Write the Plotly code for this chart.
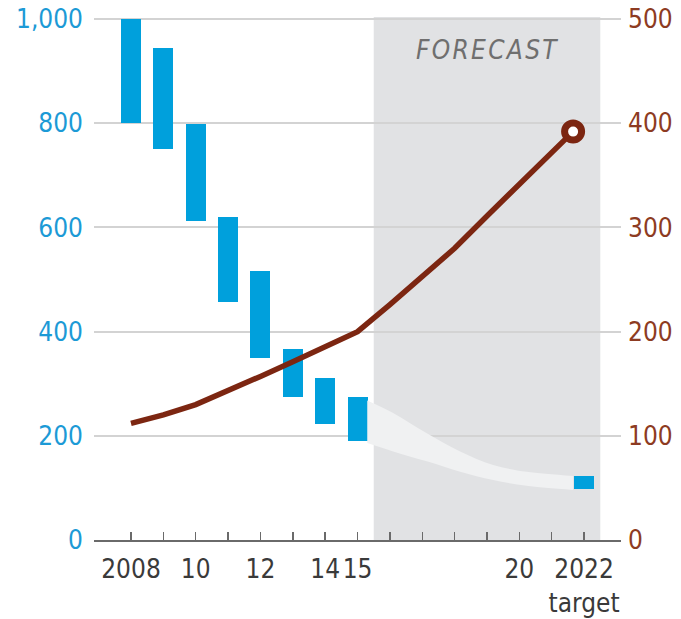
import plotly.graph_objects as go

# ---- data ----
bar_years = [2008, 2009, 2010, 2011, 2012, 2013, 2014, 2015, 2022]
bar_low = [800, 750, 613, 457, 350, 274, 222, 190, 97]
bar_high = [1000, 945, 798, 620, 517, 366, 311, 274, 123]

line_years = [2008, 2009, 2010, 2011, 2012, 2013, 2014, 2015, 2016, 2017,
              2018, 2019, 2020, 2021, 2021.66]
line_values = [112, 120, 130, 143, 157, 171, 186, 200, 226, 253,
               280, 311, 341, 371, 392]

band_years = [2015.3, 2016.1, 2017.14, 2018.17, 2019.19, 2020.23, 2021.66]
band_low = [186, 170, 151, 131, 115, 104, 96]
band_high = [268, 244, 205, 170, 144, 131, 123]

forecast_start, forecast_end = 2015.5, 2022.5

tick_years = list(range(2008, 2023))
tick_labels = ["2008", "", "10", "", "12", "", "14", "15", "", "", "", "",
               "20", "", "2022<br>target"]
left_ticks = [0, 200, 400, 600, 800, 1000]
left_labels = ["0", "200", "400", "600", "800", "1,000"]
right_ticks = [0, 100, 200, 300, 400, 500]
right_labels = ["0", "100", "200", "300", "400", "500"]

# ---- style ----
FONT = "DejaVu Sans Condensed, Liberation Sans Narrow, Open Sans, sans-serif"
BLUE = "#00A0DC"
BLUE_TXT = "#1C9AD6"
BROWN = "#7C2611"
BROWN_TXT = "#8D3B22"
GRID = "#D3D3D3"
AXIS = "#6A6A6A"
HS = "\u200a"  # hair space for letter spacing

fig = go.Figure()

# forecast band
fig.add_trace(go.Scatter(x=band_years, y=band_low, mode="lines",
                         line=dict(width=0, shape="spline"),
                         hoverinfo="skip", showlegend=False))
fig.add_trace(go.Scatter(x=band_years, y=band_high, mode="lines",
                         line=dict(width=0, shape="spline"),
                         fill="tonexty", fillcolor="#F0F1F2",
                         hoverinfo="skip", showlegend=False))

# floating bars
fig.add_trace(go.Bar(x=bar_years,
                     y=[h - l for h, l in zip(bar_high, bar_low)],
                     base=bar_low, width=0.62,
                     marker=dict(color=BLUE, line=dict(width=0)),
                     showlegend=False))

# brown line on right axis
fig.add_trace(go.Scatter(x=line_years, y=line_values, yaxis="y2",
                         mode="lines",
                         line=dict(color=BROWN, width=5.5),
                         showlegend=False))
# end-point marker (target)
fig.add_trace(go.Scatter(x=line_years[-1:], y=line_values[-1:], yaxis="y2",
                         mode="markers",
                         marker=dict(size=17, color="white", opacity=1,
                                     line=dict(color=BROWN, width=7)),
                         showlegend=False))

fig.add_shape(type="rect", xref="x", yref="paper",
              x0=forecast_start, x1=forecast_end, y0=0, y1=1,
              fillcolor="#E1E2E4", line=dict(width=0), layer="below")

fig.add_annotation(x=(forecast_start + forecast_end) / 2, y=0.937,
                   xref="x", yref="paper", yanchor="middle",
                   text=HS.join("FORECAST"),
                   showarrow=False,
                   font=dict(family=FONT, size=26, color="#6F6F6F",
                             style="italic"))

fig.update_layout(
    width=681, height=619,
    margin=dict(l=94, r=60, t=17, b=79, autoexpand=False),
    paper_bgcolor="white", plot_bgcolor="white",
    font=dict(family=FONT, size=26),
    bargap=0,
    hovermode=False,
    xaxis=dict(range=[2006.857, 2023.14], tickvals=tick_years,
               ticktext=tick_labels, tickangle=0, automargin=False,
               showgrid=False, zeroline=False,
               showline=True, linecolor=AXIS, linewidth=2,
               ticks="inside", ticklen=8, tickwidth=1.5, tickcolor=AXIS,
               ticklabelstandoff=5,
               tickfont=dict(family=FONT, size=26, color="#3A3A3A")),
    yaxis=dict(range=[0, 1004], tickvals=left_ticks, ticktext=left_labels,
               showgrid=True, gridcolor=GRID, gridwidth=2, automargin=False,
               zeroline=False, showline=False, ticks="",
               ticklabelstandoff=10,
               tickfont=dict(family=FONT, size=26, color=BLUE_TXT)),
    yaxis2=dict(range=[0, 502], tickvals=right_ticks, ticktext=right_labels,
                overlaying="y", side="right", showgrid=False,
                automargin=False,
                zeroline=False, showline=False, ticks="",
                ticklabelstandoff=6,
                tickfont=dict(family=FONT, size=26, color=BROWN_TXT)),
)

fig.write_html("out.html",
               config={"displayModeBar": False, "staticPlot": True},
               post_script="document.body.style.margin='0';"
                           "document.body.style.overflow='hidden';")
